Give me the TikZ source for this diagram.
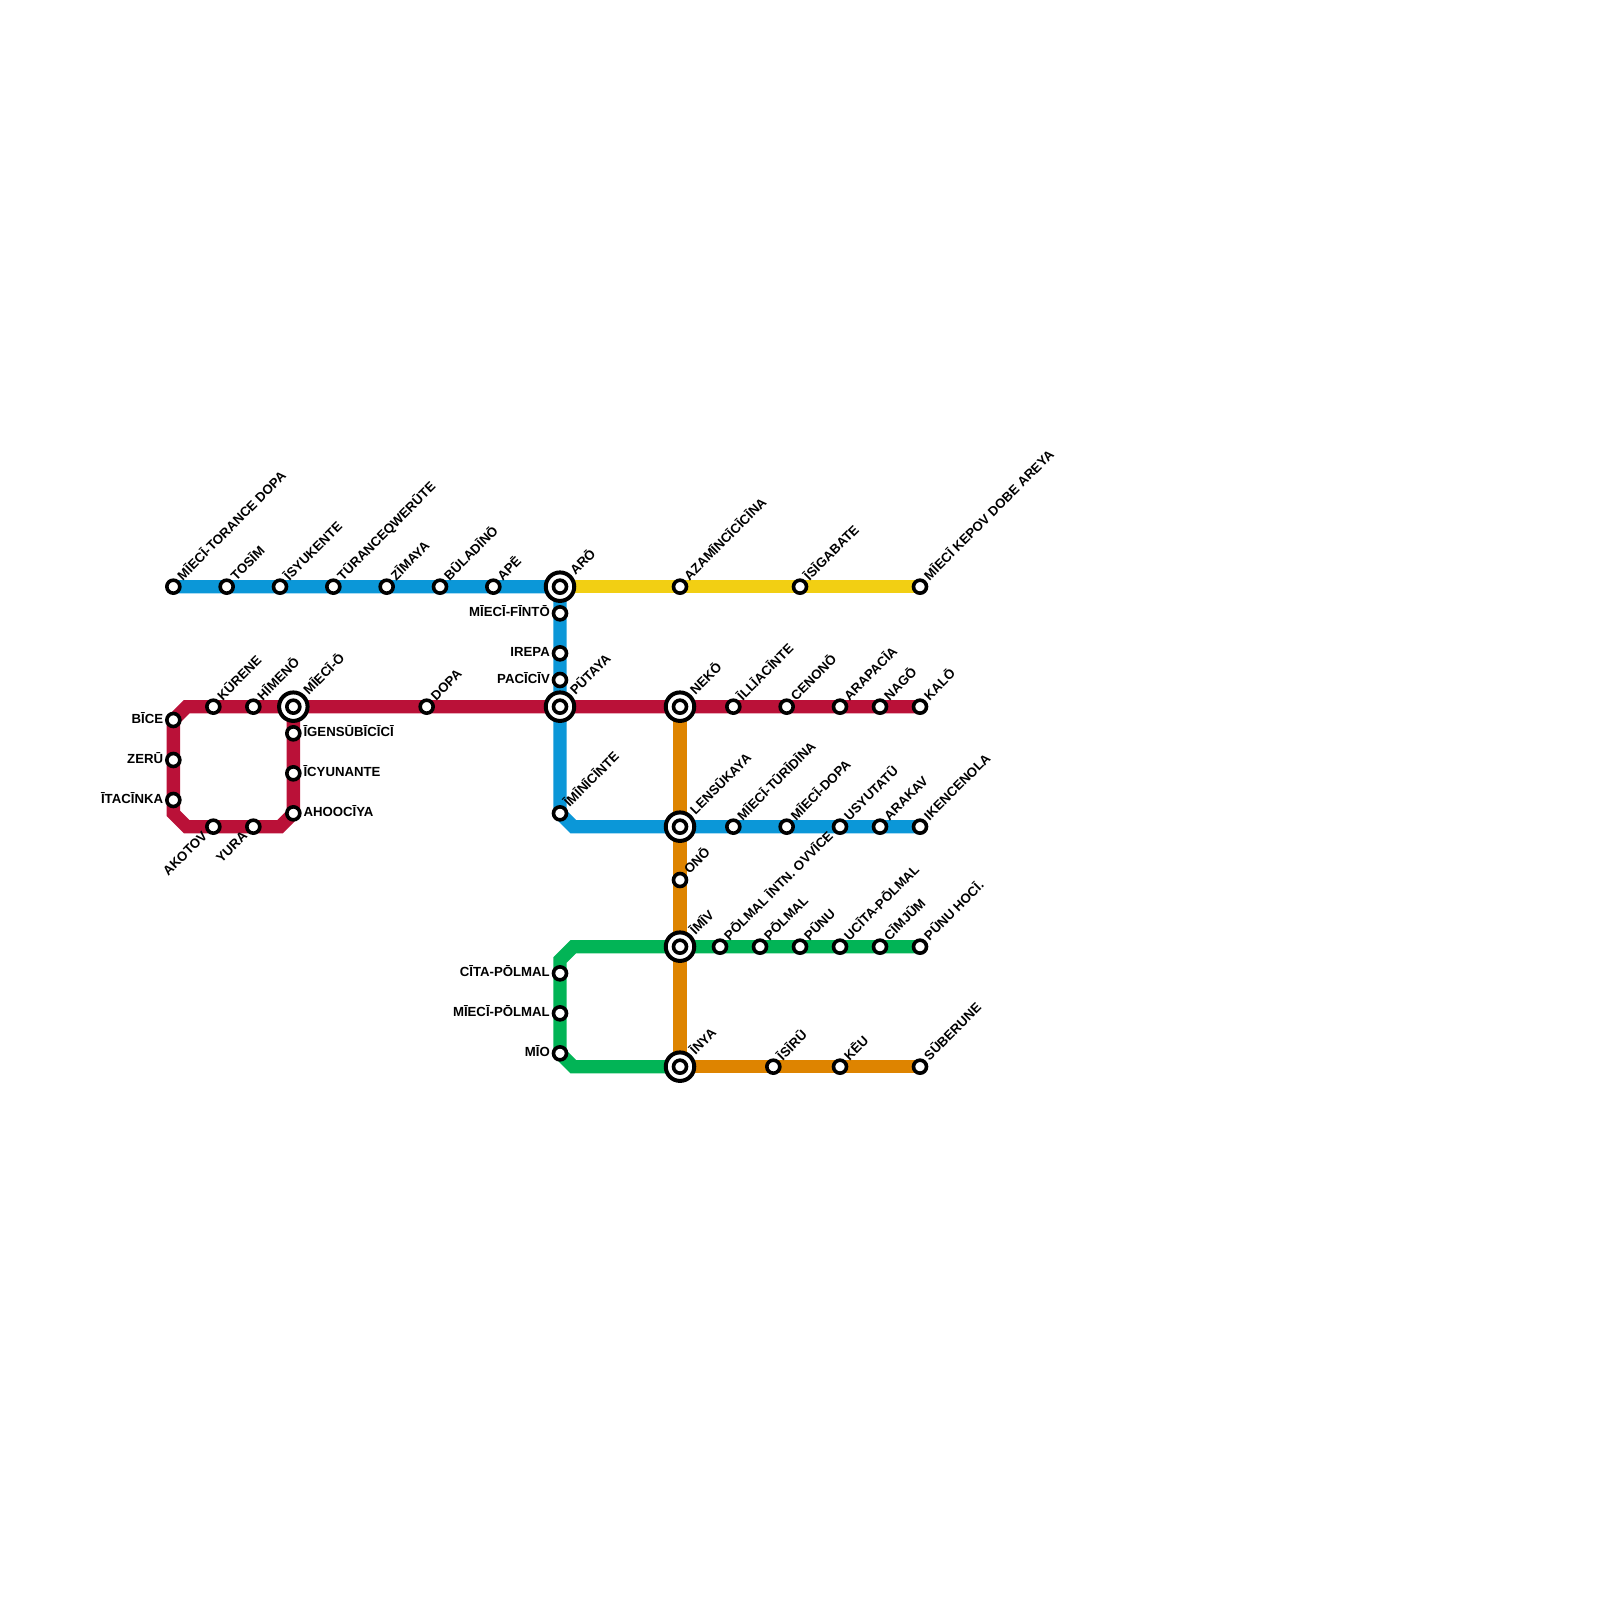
\documentclass[tikz,border=0pt]{standalone}
\usepackage{fontspec}
\setmainfont{Liberation Sans}
\usetikzlibrary{backgrounds}
\tikzset{
  x=13.3333pt,y=-13.3333pt,
  stn/.style={circle,draw=black,fill=white,line width=3.6pt,minimum size=13pt,inner sep=0pt},
  hub/.style={circle,draw=black,fill=white,line width=4pt,minimum size=28.5pt,inner sep=0pt},
  lbl/.style={font=\bfseries\fontsize{13.2}{13.2}\selectfont,text=black,inner sep=0pt},
  lur/.style={lbl,rotate=45,anchor=base west},
  ldl/.style={lbl,rotate=45,anchor=base east},
  lrt/.style={lbl,anchor=base west},
  llt/.style={lbl,anchor=base east},
  metro/.style={line width=13.3333pt,line join=miter,line cap=butt},
}
\definecolor{mblue}{HTML}{0B97D8}
\definecolor{myellow}{HTML}{F2CF13}
\definecolor{mred}{HTML}{BA1138}
\definecolor{morange}{HTML}{DE8400}
\definecolor{mgreen}{HTML}{02B456}
% kinds of station label
\newcommand{\UR}[4]{\node[stn] (#1) at (#2,#3) {}; \node[lur] (#1-l) at ([shift={(9.5pt,5.5pt)}]#1.center) {#4};}
\newcommand{\DL}[4]{\node[stn] (#1) at (#2,#3) {}; \node[ldl] (#1-l) at ([shift={(-5pt,-10pt)}]#1.center) {#4};}
\newcommand{\RT}[4]{\node[stn] (#1) at (#2,#3) {}; \node[lrt] (#1-l) at ([shift={(10pt,-3pt)}]#1.center) {#4};}
\newcommand{\LT}[4]{\node[stn] (#1) at (#2,#3) {}; \node[llt] (#1-l) at ([shift={(-10pt,-3pt)}]#1.center) {#4};}
\newcommand{\HB}[4]{\node[hub] (#1-o) at (#2,#3) {}; \node[stn] (#1) at (#2,#3) {}; \node[lur] (#1-l) at ([shift={(15.5pt,11pt)}]#1.center) {#4};}
\begin{document}
\begin{tikzpicture}
\useasboundingbox (0,0) rectangle (120,120);
% top row
\UR{a1}{13}{44}{MĪECĪ-TORANCE DOPA}
\UR{a2}{17}{44}{TOSĪM}
\UR{a3}{21}{44}{ĪSYUKENTE}
\UR{a4}{25}{44}{TŪRANCEQWERŪTE}
\UR{a5}{29}{44}{ZĪMAYA}
\UR{a6}{33}{44}{BŪLADĪNŌ}
\UR{a7}{37}{44}{APĒ}
\HB{aro}{42}{44}{ARŌ}
\UR{y1}{51}{44}{AZAMĪNCĪCĪCĪNA}
\UR{y2}{60}{44}{ĪSĪGABATE}
\UR{y3}{69}{44}{MĪECĪ KEPOV DOBE AREYA}
% blue vertical
\LT{b1}{42}{46}{MĪECĪ-FĪNTŌ}
\LT{b2}{42}{49}{IREPA}
\LT{b3}{42}{51}{PACĪCĪV}
\HB{put}{42}{53}{PŪTAYA}
\UR{b4}{42}{61}{ĪMĪNĪCĪNTE}
% red row
\LT{r1}{13}{54}{BĪCE}
\LT{r2}{13}{57}{ZERŪ}
\LT{r3}{13}{60}{ĪTACĪNKA}
\UR{r4}{16}{53}{KŪRENE}
\UR{r5}{19}{53}{HĪMENŌ}
\HB{mio}{22}{53}{MĪECĪ-Ō}
\UR{r6}{32}{53}{DOPA}
\HB{nek}{51}{53}{NEKŌ}
\UR{r7}{55}{53}{ĪLLĪACĪNTE}
\UR{r8}{59}{53}{CENONŌ}
\UR{r9}{63}{53}{ARAPACĪA}
\UR{r10}{66}{53}{NAGŌ}
\UR{r11}{69}{53}{KALŌ}
\RT{r12}{22}{55}{ĪGENSŪBĪCĪCĪ}
\RT{r13}{22}{58}{ĪCYUNANTE}
\RT{r14}{22}{61}{AHOOCĪYA}
\DL{r15}{16}{62}{AKOTOV}
\DL{r16}{19}{62}{YURA}
% lower blue row
\HB{len}{51}{62}{LENSŪKAYA}
\UR{c1}{55}{62}{MĪECĪ-TŪRĪDĪNA}
\UR{c2}{59}{62}{MĪECĪ-DOPA}
\UR{c3}{63}{62}{USYUTATŪ}
\UR{c4}{66}{62}{ARAKAV}
\UR{c5}{69}{62}{IKENCENOLA}
% orange
\UR{o1}{51}{66}{ONŌ}
\HB{imi}{51}{71}{ĪMĪV}
\HB{iny}{51}{80}{ĪNYA}
\UR{o2}{58}{80}{ĪSĪRŪ}
\UR{o3}{63}{80}{KĒU}
\UR{o4}{69}{80}{SŪBERUNE}
% green
\UR{g1}{54}{71}{PŌLMAL ĪNTN. OVVĪCE}
\UR{g2}{57}{71}{PŌLMAL}
\UR{g3}{60}{71}{PŪNU}
\UR{g4}{63}{71}{UCĪTA-PŌLMAL}
\UR{g5}{66}{71}{CĪMJŪM}
\UR{g6}{69}{71}{PŪNU HOCĪ.}
\LT{g7}{42}{73}{CĪTA-PŌLMAL}
\LT{g8}{42}{76}{MĪECĪ-PŌLMAL}
\LT{g9}{42}{79}{MĪO}
% bends
\coordinate (rb1) at (14,53);
\coordinate (rb2) at (13,61);
\coordinate (rb3) at (14,62);
\coordinate (rb4) at (21,62);
\coordinate (rb5) at (22,61);
\coordinate (bb1) at (43,62);
\coordinate (gb1) at (43,71);
\coordinate (gb2) at (42,72);
\coordinate (gb3) at (43,80);
\begin{scope}[on background layer]
\draw[metro,myellow] (aro.center) -- (y3.center);
\draw[metro,mblue] (a1.center) -- (aro.center) -- (b4.center) -- (bb1) -- (c5.center);
\draw[metro,mgreen] (g6.center) -- (gb1) -- (gb2) -- (g9.center) -- (gb3) -- (iny.center);
\draw[metro,mred] (r1.center) -- (rb1) -- (r11.center);
\draw[metro,mred] (r1.center) -- (rb2) -- (rb3) -- (rb4) -- (rb5) -- (mio.center);
\draw[metro,morange] (nek.center) -- (iny.center) -- (o4.center);
\end{scope}
\end{tikzpicture}
\end{document}
